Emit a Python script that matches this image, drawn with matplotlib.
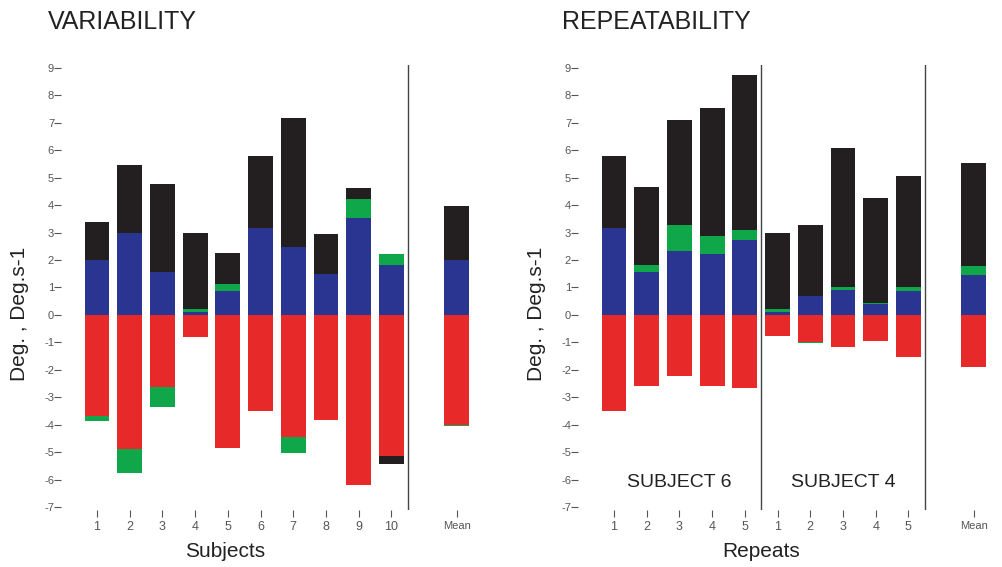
import numpy as np
import matplotlib
matplotlib.use('Agg')
import matplotlib.pyplot as plt

plt.rcParams['font.family'] = ['Liberation Sans', 'DejaVu Sans']
plt.rcParams['axes.unicode_minus'] = False

# segment heights (Deg., Deg.s-1)
pos = [1, 2, 3, 4, 5, 6, 7, 8, 9, 10, 12]

var_labels = ['1', '2', '3', '4', '5', '6', '7', '8', '9', '10', 'Mean']
var_blue = [2.0, 3.0, 1.55, 0.1, 0.87, 3.16, 2.47, 1.49, 3.54, 1.83, 2.0]
var_green = [0, 0, 0, 0.1, 0.25, 0, 0, 0, 0.68, 0.4, 0]
var_black = [1.4, 2.45, 3.23, 2.8, 1.15, 2.61, 4.69, 1.47, 0.4, 0, 1.97]
var_red = [3.68, 4.89, 2.63, 0.79, 4.83, 3.5, 4.45, 3.84, 6.2, 5.13, 4.01]
var_green_neg = [0.19, 0.87, 0.73, 0, 0, 0, 0.56, 0, 0, 0, 0.05]
var_black_neg = [0, 0, 0, 0, 0, 0, 0, 0, 0, 0.3, 0]

rep_labels = ['1', '2', '3', '4', '5', '1', '2', '3', '4', '5', 'Mean']
rep_blue = [3.16, 1.57, 2.33, 2.2, 2.74, 0.1, 0.69, 0.89, 0.4, 0.87, 1.47]
rep_green = [0, 0.26, 0.94, 0.66, 0.36, 0.1, 0, 0.12, 0.03, 0.14, 0.31]
rep_black = [2.61, 2.82, 3.83, 4.69, 5.63, 2.78, 2.59, 5.06, 3.83, 4.04, 3.76]
rep_red = [3.5, 2.58, 2.22, 2.58, 2.66, 0.76, 1.0, 1.18, 0.96, 1.52, 1.88]
rep_green_neg = [0, 0, 0, 0, 0, 0, 0.03, 0, 0, 0, 0]
rep_black_neg = [0, 0, 0, 0, 0, 0, 0, 0, 0, 0, 0]

BLUE = '#2a3592'
GREEN = '#10a64a'
BLACK = '#231f20'
RED = '#e8292a'
GREY = '#555555'


def draw(ax, blue, green, black, red, gneg, kneg, labels, dividers):
    w = 0.76
    blue = np.array(blue); green = np.array(green); black = np.array(black)
    red = np.array(red); gneg = np.array(gneg); kneg = np.array(kneg)
    ax.bar(pos, blue, w, color=BLUE)
    ax.bar(pos, green, w, bottom=blue, color=GREEN)
    ax.bar(pos, black, w, bottom=blue + green, color=BLACK)
    ax.bar(pos, -red, w, color=RED)
    ax.bar(pos, -gneg, w, bottom=-red, color=GREEN)
    ax.bar(pos, -kneg, w, bottom=-red - gneg, color=BLACK)
    for d in dividers:
        ax.axvline(d, color='#444444', lw=1.0)
    ax.set_xlim(-0.1, 12.8)
    ax.set_ylim(-7.1, 9.1)
    ax.set_yticks(range(-7, 10))
    ax.set_xticks(pos)
    ax.set_xticklabels(labels)
    for s in ax.spines.values():
        s.set_visible(False)
    ax.tick_params(axis='y', direction='out', length=5, width=0.8, pad=0,
                   colors=GREY, labelsize=8)
    ax.tick_params(axis='x', direction='out', length=5, width=0.8, pad=3,
                   colors=GREY, labelsize=9)
    for t in ax.get_xticklabels():
        if t.get_text() == 'Mean':
            t.set_fontsize(8)
    ax.set_ylabel('Deg. , Deg.s-1', fontsize=15, color='#222222')
    ax.yaxis.set_label_coords(-0.075, 0.44)


fig = plt.figure(figsize=(10.03, 5.67), dpi=100)
ax1 = fig.add_axes([0.0608, 0.1005, 0.4207, 0.785])
ax2 = fig.add_axes([0.5763, 0.1005, 0.4207, 0.785])

draw(ax1, var_blue, var_green, var_black, var_red, var_green_neg, var_black_neg,
     var_labels, [10.5])
draw(ax2, rep_blue, rep_green, rep_black, rep_red, rep_green_neg, rep_black_neg,
     rep_labels, [5.5, 10.5])

ax1.set_xlabel('Subjects', fontsize=15, color='#222222')
ax2.set_xlabel('Repeats', fontsize=15, color='#222222')
ax1.xaxis.set_label_coords(0.39, -0.072)
ax2.xaxis.set_label_coords(0.435, -0.072)

ax2.text(3, -6.1, 'SUBJECT 6', ha='center', va='center', fontsize=14, color='#222222')
ax2.text(8, -6.1, 'SUBJECT 4', ha='center', va='center', fontsize=14, color='#222222')

fig.text(48 / 1003, 1 - 22 / 567, 'VARIABILITY', fontsize=18, va='center', color='#222222')
fig.text(562 / 1003, 1 - 22 / 567, 'REPEATABILITY', fontsize=18, va='center', color='#222222')

fig.savefig('out.png', dpi=100)
